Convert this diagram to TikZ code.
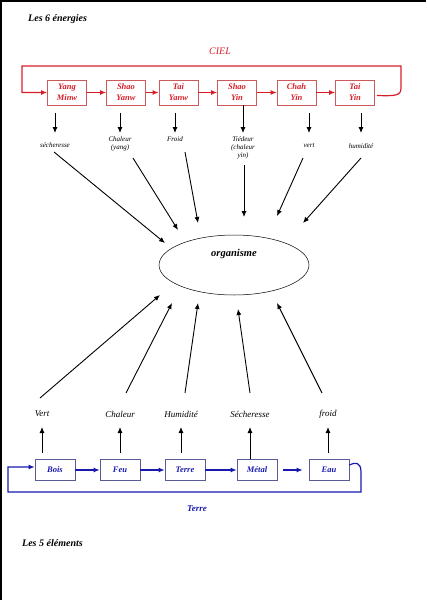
\documentclass[tikz,border=0pt]{standalone}
\usepackage{fontspec}
\setmainfont{Liberation Serif}
\usetikzlibrary{arrows,arrows.meta,shapes,positioning}
\definecolor{ciel}{RGB}{215,30,40}
\definecolor{cielbox}{RGB}{205,90,90}
\definecolor{terre}{RGB}{25,25,175}
\definecolor{terrebox}{RGB}{90,90,150}

\begin{document}
\begin{tikzpicture}[x=1pt,y=-1pt,>={Latex[length=6pt,width=5pt]},
  energie/.style={draw=cielbox,line width=0.6pt,minimum width=39pt,minimum height=25pt,inner sep=0pt,align=center,text=ciel,font=\fontsize{8.5}{11}\selectfont\bfseries\itshape},
  element/.style={draw=terrebox,line width=0.6pt,minimum width=40pt,minimum height=21pt,inner sep=0pt,text=terre,font=\fontsize{8.5}{10}\selectfont\bfseries\itshape},
  petit/.style={inner sep=1pt,align=center,font=\fontsize{7}{8.3}\selectfont\itshape},
  moyen/.style={inner sep=1pt,font=\fontsize{9}{10}\selectfont\itshape},
  titre/.style={anchor=west,inner sep=0pt,font=\fontsize{10}{12}\selectfont\bfseries\itshape},
  rouge/.style={ciel,line width=1.2pt},
  bleu/.style={terre,line width=1.2pt},
  fleche/.style={->,line width=0.9pt}]

      \useasboundingbox (0,0) rectangle (426,600);
      \draw[line width=2pt] (1,600) -- (1,1) -- (426,1);

      % les 6 energies
      \node[titre] (t6) at (28,19) {Les 6 énergies};
      \node[ciel,font=\fontsize{10}{12}\selectfont\itshape] (cieltxt) at (220,51) {CIEL};

      \node[energie] (ym) at (67,92.5) {Yang\\Minw};
      \node[energie] (sy) at (126,92.5) {Shao\\Yanw};
      \node[energie] (ty) at (178.5,92.5) {Tai\\Yanw};
      \node[energie] (syin) at (237,92.5) {Shao\\Yin};
      \node[energie] (cy) at (296.5,92.5) {Chah\\Yin};
      \node[energie] (tyin) at (355,92.5) {Tai\\Yin};

      \draw[rouge,->] (ym) -- (sy);
      \draw[rouge,->] (sy) -- (ty);
      \draw[rouge,->] (ty) -- (syin);
      \draw[rouge,->] (syin) -- (cy);
      \draw[rouge,->] (cy) -- (tyin);

      \coordinate (cielE) at (401,88);
      \coordinate (cielNE) at (401,66);
      \coordinate (cielNW) at (22,66);
      \draw[rouge,->] ([xshift=2pt,yshift=-3pt]tyin.east) .. controls (395,96) and (401,96) .. (cielE)
        -- (cielNE) -- (cielNW) |- (ym.west);

      \node[petit] (e1) at (55,145) {sécheresse};
      \node[petit] (e2) at (120,143.5) {Chaleur\\(yang)};
      \node[petit] (e3) at (175,139) {Froid};
      \node[petit] (e4) at (243,148) {Tiédeur\\(chaleur\\yin)};
      \node[petit] (e5) at (309,146) {vert};
      \node[petit] (e6) at (361,146) {humidité};

      \draw[fleche] (e1 |- 0,113) -- (e1 |- 0,133);
      \draw[fleche] (e2 |- 0,113) -- (e2 |- 0,133);
      \draw[fleche] (e3 |- 0,113) -- (e3 |- 0,133);
      \draw[fleche] (e4 |- syin.south) -- (e4 |- 0,133);
      \draw[fleche] (e5 |- 0,113) -- (e5 |- 0,133);
      \draw[fleche] (e6 |- 0,113) -- (e6 |- 0,133);

      % organisme
      \node[draw,ellipse,line width=0.5pt,minimum width=150pt,minimum height=60pt,
        label={[yshift=11pt,font=\fontsize{10.5}{12}\selectfont\bfseries\itshape]center:organisme}] (org) at (234,265) {};

      \coordinate (s1) at (54,152);   \coordinate (o1) at (165,243);
      \coordinate (s2) at (133,158);  \coordinate (o2) at (178,230);
      \coordinate (s3) at (185,152);  \coordinate (o3) at (198,223);
      \coordinate (s4) at (244,165);  \coordinate (o4) at (244,217);
      \coordinate (s5) at (303,158);  \coordinate (o5) at (277,216);
      \coordinate (s6) at (361,158);  \coordinate (o6) at (303,223);
      \draw[fleche] (s1) -- (o1);
      \draw[fleche] (s2) -- (o2);
      \draw[fleche] (s3) -- (o3);
      \draw[fleche] (s4) -- (o4);
      \draw[fleche] (s5) -- (o5);
      \draw[fleche] (s6) -- (o6);

      % les 5 elements
      \coordinate (b1) at (40,398);   \coordinate (u1) at (160,295);
      \coordinate (b2) at (126,393);  \coordinate (u2) at (172,303);
      \coordinate (b3) at (185,393);  \coordinate (u3) at (198,303);
      \coordinate (b4) at (250,393);  \coordinate (u4) at (238,309);
      \coordinate (b5) at (322,393);  \coordinate (u5) at (277,303);
      \draw[fleche] (b1) -- (u1);
      \draw[fleche] (b2) -- (u2);
      \draw[fleche] (b3) -- (u3);
      \draw[fleche] (b4) -- (u4);
      \draw[fleche] (b5) -- (u5);

      \node[moyen] (l1) at (42,414) {Vert};
      \node[moyen] (l2) at (120,414) {Chaleur};
      \node[moyen] (l3) at (181,414) {Humidité};
      \node[moyen] (l4) at (250,414) {Sécheresse};
      \node[moyen] (l5) at (328,414) {froid};

      \node[element] (bois) at (55,470) {Bois};
      \node[element] (feu) at (120,470) {Feu};
      \node[element] (terreb) at (185,470) {Terre};
      \node[element] (metal) at (257,470) {Métal};
      \node[element] (eau) at (329,470) {Eau};

      \draw[fleche] (l1 |- 0,453) -- (l1 |- 0,427);
      \draw[fleche] (l2 |- 0,453) -- (l2 |- 0,427);
      \draw[fleche] (l3 |- 0,453) -- (l3 |- 0,427);
      \draw[fleche] (l4 |- metal.north) -- (l4 |- 0,427);
      \draw[fleche] (l5 |- 0,453) -- (l5 |- 0,427);

      \draw[bleu,->] (bois) -- (feu);
      \draw[bleu,->] (feu) -- (terreb);
      \draw[bleu,->] (terreb) -- (metal);
      \draw[bleu,->,shorten <=6pt,shorten >=6pt] (metal) -- (eau);

      \coordinate (terreE) at (361,472);
      \coordinate (terreSE) at (361,492);
      \coordinate (terreSW) at (8,492);
      \draw[bleu,->] ([yshift=5pt]eau.east) .. controls (355,462) and (361,462) .. (terreE)
        -- (terreSE) -- (terreSW) |- ([yshift=3pt]bois.west);

      \node[terre,font=\fontsize{9}{11}\selectfont\bfseries\itshape] (terretxt) at (197,509) {Terre};
      \node[titre] (t5) at (22,543) {Les 5 éléments};
    \end{tikzpicture}
\end{document}
